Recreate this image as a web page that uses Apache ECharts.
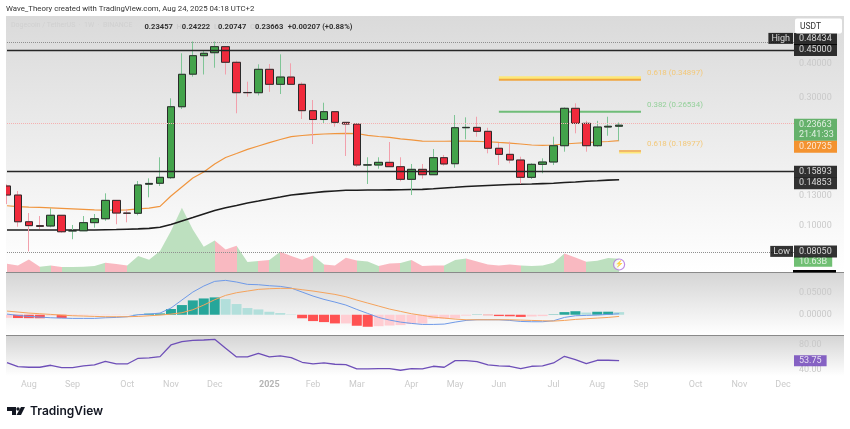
<!DOCTYPE html>
<html>
<head>
<meta charset="utf-8">
<title>DOGE/USDT 1W</title>
<script src="https://cdn.jsdelivr.net/npm/echarts@6/dist/echarts.min.js"></script>
<style>
  html, body { margin: 0; padding: 0; background: #fff; }
  #main { width: 850px; height: 429px; }
</style>
</head>
<body>
<div id="main"></div>
<script>
// weekly slots, the chart keeps empty weeks on the right side
const weeks = [
  "2024-07-22","2024-07-29","2024-08-05","2024-08-12","2024-08-19","2024-08-26","2024-09-02","2024-09-09","2024-09-16","2024-09-23",
  "2024-09-30","2024-10-07","2024-10-14","2024-10-21","2024-10-28","2024-11-04","2024-11-11","2024-11-18","2024-11-25","2024-12-02",
  "2024-12-09","2024-12-16","2024-12-23","2024-12-30","2025-01-06","2025-01-13","2025-01-20","2025-01-27","2025-02-03","2025-02-10",
  "2025-02-17","2025-02-24","2025-03-03","2025-03-10","2025-03-17","2025-03-24","2025-03-31","2025-04-07","2025-04-14","2025-04-21",
  "2025-04-28","2025-05-05","2025-05-12","2025-05-19","2025-05-26","2025-06-02","2025-06-09","2025-06-16","2025-06-23","2025-06-30",
  "2025-07-07","2025-07-14","2025-07-21","2025-07-28","2025-08-04","2025-08-11","2025-08-18","2025-08-25","2025-09-01","2025-09-08",
  "2025-09-15","2025-09-22","2025-09-29","2025-10-06","2025-10-13","2025-10-20","2025-10-27","2025-11-03","2025-11-10","2025-11-17",
  "2025-11-24","2025-12-01","2025-12-08"
];
const monthWeeks = {
  "2024-08-05": "Aug", "2024-09-02": "Sep", "2024-10-07": "Oct", "2024-11-04": "Nov", "2024-12-02": "Dec",
  "2025-01-06": "2025", "2025-02-03": "Feb", "2025-03-03": "Mar", "2025-04-07": "Apr", "2025-05-05": "May",
  "2025-06-02": "Jun", "2025-07-07": "Jul", "2025-08-04": "Aug", "2025-09-01": "Sep", "2025-10-06": "Oct",
  "2025-11-03": "Nov", "2025-12-01": "Dec"
};

const opens = [
  .1408,.1303,.1037,.1003,.1000,.1096,.0958,.0960,.1029,.1064,
  .1245,.1117,.1115,.1429,.1441,.1511,.2771,.3660,.4286,.4397,
  .4630,.4051,.3130,.3124,.3815,.3356,.3572,.3356,.2679,.2484,
  .2656,.2425,.2390,.1684,.1684,.1723,.1660,.1490,.1623,.1550,
  .1793,.1703,.2316,.2323,.2246,.1943,.1845,.1758,.1516,.1694,
  .1728,.1986,.2734,.2405,.1986,.2330,.23457
];
const closes = [
  .1303,.1037,.1003,.0997,.1096,.0952,.0962,.1029,.1064,.1245,
  .1117,.1115,.1420,.1439,.1516,.2771,.3656,.4286,.4375,.4630,
  .4051,.3124,.3124,.3815,.3356,.3572,.3356,.2679,.2484,.2656,
  .2425,.2390,.1684,.1686,.1723,.1660,.1490,.1623,.1550,.1793,
  .1699,.2316,.2323,.2246,.1943,.1845,.1758,.1516,.1694,.1728,
  .1986,.2734,.2405,.1986,.2330,.2345,.23663
];
const lows = [
  .1206,.0994,.0805,.0975,.0989,.0944,.0893,.0958,.0986,.1046,
  .1015,.1032,.1096,.1278,.1408,.1494,.2718,.3582,.3650,.3868,
  .3650,.2620,.3020,.3052,.3146,.3089,.3345,.2495,.2015,.2405,
  .2336,.1819,.1656,.1432,.1632,.1656,.1466,.1303,.1498,.1546,
  .1674,.1646,.2098,.2145,.1861,.1684,.1709,.1432,.1494,.1569,
  .1684,.1887,.2208,.1887,.1969,.2163,.20747
];
const highs = [
  .1429,.1349,.1117,.1089,.1163,.1098,.1009,.1089,.1108,.1322,
  .1249,.1157,.1469,.1503,.1799,.2978,.4375,.4843,.4474,.4843,
  .4656,.4107,.3432,.3982,.3992,.4337,.4016,.3414,.2935,.2868,
  .2660,.2431,.2400,.1799,.1799,.2050,.1799,.1699,.1699,.1931,
  .1835,.2582,.2531,.2544,.2316,.2033,.2055,.1808,.1709,.1783,
  .2145,.2757,.2853,.2456,.2456,.2544,.24222
];
const ema50 = [
  .1189,.1181,.1176,.1173,.1168,.1163,.1158,.1153,.1148,.1146,
  .1146,.1148,.1157,.1166,.1183,.1292,.1396,.1507,.1586,.1699,
  .1796,.1858,.1924,.1981,.2038,.2095,.2145,.2167,.2182,.2195,
  .2204,.2208,.2204,.2169,.2149,.2131,.2107,.2089,.2067,.2063,
  .2063,.2067,.2067,.2061,.2054,.2042,.2031,.2015,.1998,.1993,
  .1998,.2015,.2028,.2038,.2050,.2059,.20735
];
const sma200 = [
  .0966,.0966,.0966,.0966,.0966,.0966,.0966,.0966,.0966,.0968,
  .0970,.0973,.0976,.0980,.0989,.1013,.1044,.1075,.1108,.1142,
  .1168,.1191,.1217,.1238,.1260,.1281,.1303,.1316,.1329,.1341,
  .1349,.1357,.1358,.1360,.1360,.1362,.1364,.1366,.1368,.1374,
  .1384,.1392,.1401,.1408,.1414,.1420,.1425,.1429,.1432,.1437,
  .1441,.1450,.1457,.1465,.1472,.1480,.14853
];
// volume in billions
const volume = [
  6.7,5.3,10.1,4.3,5.3,4.0,4.0,4.3,4.8,7.5,
  6.4,5.3,12.8,9.9,16.8,32.8,51.5,34.1,20.3,25.3,
  18.1,21.1,8.0,8.8,9.6,16.3,12.8,9.9,13.3,6.1,
  5.3,11.5,9.3,8.5,4.8,6.9,7.2,9.6,4.8,5.3,
  5.3,9.6,10.9,8.5,6.1,5.3,6.1,5.3,4.8,5.3,
  7.5,14.9,11.7,8.3,9.1,11.2,10.63
];
const macdHist = [
  -.0070,-.0075,-.0078,-.0080,-.0020,-.0075,-.0020,-.0015,-.0010,-.0010,
  -.0008,-.0005,.0005,.0025,.0030,.0130,.0220,.0326,.0370,.0394,
  .0356,.0243,.0152,.0121,.0068,.0038,.0008,-.0080,-.0144,-.0167,
  -.0197,-.0197,-.0250,-.0273,-.0260,-.0245,-.0235,-.0210,-.0200,-.0090,
  -.0090,-.0080,-.0020,.0005,-.0010,-.0030,-.0035,-.0050,-.0040,-.0030,
  .0008,.0060,.0080,.0050,.0068,.0069,.0060
];
const macdLine = [
  .0015,-.0015,-.0038,-.0053,-.0068,-.0076,-.0083,-.0083,-.0083,-.0068,
  -.0061,-.0045,0,.0015,.0038,.0152,.0334,.0515,.0652,.0758,
  .0781,.0743,.0690,.0682,.0659,.0644,.0606,.0515,.0424,.0349,
  .0288,.0220,.0121,.0030,-.0061,-.0121,-.0167,-.0197,-.0220,-.0220,
  -.0212,-.0167,-.0129,-.0114,-.0114,-.0114,-.0129,-.0152,-.0159,-.0159,
  -.0136,-.0061,-.0023,-.0015,-.0008,.0008,.0023
];
const macdSignal = [
  .0083,.0061,.0038,.0023,.0008,-.0008,-.0023,-.0030,-.0038,-.0045,
  -.0045,-.0045,-.0038,-.0023,-.0008,.0015,.0045,.0114,.0220,.0341,
  .0440,.0500,.0538,.0576,.0591,.0599,.0599,.0569,.0538,.0500,
  .0462,.0409,.0334,.0265,.0197,.0129,.0076,.0023,-.0015,-.0053,
  -.0076,-.0099,-.0114,-.0114,-.0114,-.0114,-.0114,-.0121,-.0129,-.0136,
  -.0144,-.0129,-.0106,-.0091,-.0076,-.0061,-.0038
];
const rsi = [
  50.7,44.3,43.2,43.2,46.4,42.7,42.7,45.3,46.9,52.8,
  48.5,48.5,57.6,58.1,60.3,78.9,84.3,86.4,86.9,88.0,
  73.6,59.7,59.7,65.6,59.7,61.3,58.7,51.2,48.5,50.1,
  48.0,47.5,40.5,40.5,41.1,41.1,38.4,41.1,40.5,44.8,
  43.2,53.9,53.9,52.3,46.9,45.3,44.8,41.1,44.8,45.3,
  50.1,60.8,55.5,49.1,54.4,54.4,53.75
];

const priceTicks = [0.4, 0.3, 0.13, 0.1];
const macdTicks = [0.05, 0];
const rsiTicks = [80, 40];
const highPrice = 0.48434;
const lowPrice = 0.0805;
const lastPrice = 0.23663;
const levels = [0.45, 0.15893];
const lastVolume = 10.63;
const lastRsi = 53.75;
const fibUpper = 0.34897;
const fibMid = 0.26534;
const fibLower = 0.18977;

var GREEN = "#43a34b", RED = "#f02a3c";
var lastSlot = weeks.length - 1;
var lastBar = opens.length - 1;

var candles = opens.map((o, i) => [o, closes[i], lows[i], highs[i]]);
var bodies = opens.map((o, i) => [o, closes[i], Math.min(o, closes[i]), Math.max(o, closes[i])]);

function vGrad(stops) {
  return new echarts.graphic.LinearGradient(0, 0, 0, 1, stops);
}

function tag(value, text, color, dy) {
  return {
    value: [lastSlot, value],
    label: { formatter: text, backgroundColor: color, offset: [0, dy], width: 33, lineHeight: 10 }
  };
}

function fibLine(name, from, to, price, color, width, text, textColor) {
  var s = {
    name: name, type: "line", z: 3, silent: true, symbol: "none",
    data: [[from, price], [to, price]],
    lineStyle: { color: color, width: width }
  };
  if (text) {
    s.endLabel = {
      show: true, formatter: text, color: textColor, fontSize: 7.9,
      fontFamily: "Roboto", offset: [-2, -7]
    };
  }
  return s;
}

// area colour follows the candle direction, split by slot
var volPieces = [
  [0,3,"p"],[3,4,"g"],[4,5,"p"],[5,9,"g"],[9,11,"p"],[11,19,"g"],[19,21,"p"],[21,23,"g"],
  [23,24,"p"],[24,25,"g"],[25,28,"p"],[28,29,"g"],[29,32,"p"],[32,34,"g"],[34,36,"p"],
  [36,37,"g"],[37,40,"p"],[40,42,"g"],[42,47,"p"],[47,51,"g"],[51,53,"p"],[53,57,"g"]
].map(function (p) {
  return { gte: p[0], lt: p[1], color: p[2] == "g" ? "#bde0bf" : "#f9b9c1" };
});

var axisText = { color: "#c9c9c9", fontSize: 9, fontFamily: "Roboto" };

var option = {
  animation: false,
  textStyle: { fontFamily: "Roboto" },
  title: [
    {
      text: "Wave_Theory created with TradingView.com, Aug 24, 2025 04:18 UTC+2",
      left: 6, top: 5, padding: 0,
      textStyle: { fontSize: 7.8, fontWeight: "normal", color: "#333", fontFamily: "Roboto" }
    },
    {
      text: "Dogecoin / TetherUS  ·  1W  ·  BINANCE",
      left: 11, top: 22, padding: 0,
      textStyle: { fontSize: 7, fontWeight: "normal", color: "#d0d0d0", fontFamily: "Roboto" }
    },
    {
      text: "{v|0.23457}{p|  H}{v|0.24222}{p|  L}{v|0.20747}{p|  C}{v|0.23663} {v|+0.00207 (+0.88%)}",
      left: 144.5, top: 18, padding: 0,
      textStyle: {
        rich: {
          p: { color: "#cfcfcf", fontSize: 7.5, fontFamily: "Roboto" },
          v: { color: "#333", fontSize: 7.6, fontFamily: "Roboto" }
        }
      }
    }
  ],
  grid: [
    { left: 7, width: 787, top: 16, height: 256 },
    { left: 7, width: 787, top: 273, height: 62 },
    { left: 7, width: 787, top: 336, height: 37 }
  ],
  xAxis: [
    { type: "category", data: weeks, boundaryGap: false, gridIndex: 0, show: false },
    { type: "category", data: weeks, boundaryGap: false, gridIndex: 1, show: false },
    {
      type: "category", data: weeks, boundaryGap: false, gridIndex: 2,
      axisLine: { show: false }, axisTick: { show: false },
      axisLabel: {
        color: "#cbcbcb", fontSize: 9, fontFamily: "Roboto", margin: 7, hideOverlap: false,
        interval: function (i, value) { return !!monthWeeks[value]; },
        formatter: function (value) {
          var m = monthWeeks[value];
          return m == "2025" ? "{b|2025}" : m;
        },
        rich: { b: { color: "#b5b5b5", fontSize: 9, fontWeight: "bold", fontFamily: "Roboto" } }
      }
    }
  ],
  yAxis: [
    {
      type: "log", logBase: 10, gridIndex: 0, position: "right", min: 0.0675, max: 0.6017,
      axisLine: { show: false }, axisTick: { show: false }, splitLine: { show: false },
      axisLabel: Object.assign({ customValues: priceTicks, margin: 5, formatter: (v) => Number(v).toFixed(5) }, axisText)
    },
    { type: "value", gridIndex: 0, min: 0, max: 205, show: false },
    {
      type: "value", gridIndex: 1, position: "right", min: -0.046, max: 0.0948,
      axisLine: { show: false }, axisTick: { show: false }, splitLine: { show: false },
      axisLabel: Object.assign({ customValues: macdTicks, margin: 5, formatter: (v) => Number(v).toFixed(5) }, axisText)
    },
    {
      type: "value", gridIndex: 2, position: "right", min: 34, max: 93.3,
      axisLine: { show: false }, axisTick: { show: false }, splitLine: { show: false },
      axisLabel: Object.assign({ customValues: rsiTicks, margin: 5, formatter: (v) => Number(v).toFixed(2) }, axisText)
    }
  ],
  visualMap: {
    show: false, type: "piecewise", seriesIndex: 0, dimension: 0,
    pieces: volPieces, outOfRange: { color: "#bde0bf" }
  },
  series: [
    {
      name: "Volume", type: "line", xAxisIndex: 0, yAxisIndex: 1, z: 1, silent: true,
      symbol: "none", lineStyle: { width: 0 }, areaStyle: { opacity: 1 },
      data: volume.map((v, i) => [i, v])
    },
    {
      name: "Dotted", type: "line", z: 2, silent: true, symbol: "none", data: [],
      markLine: {
        silent: true, symbol: "none", label: { show: false },
        lineStyle: { type: "dotted", width: 1, color: "#8f8f8f" },
        data: [{ yAxis: highPrice }, { yAxis: lowPrice }]
      }
    },
    {
      name: "Last price", type: "line", z: 2, silent: true, symbol: "none", data: [],
      markLine: {
        silent: true, symbol: "none", label: { show: false },
        lineStyle: { type: "dotted", width: 1, color: "#f5b0b0" },
        data: [{ yAxis: lastPrice }]
      }
    },
    {
      name: "Levels", type: "line", z: 2, silent: true, symbol: "none", data: [],
      markLine: {
        silent: true, symbol: "none", label: { show: false },
        lineStyle: { type: "solid", width: 1.3, color: "#262626" },
        data: levels.map((v) => ({ yAxis: v }))
      }
    },
    {
      name: "SMA200", type: "line", z: 2, silent: true, symbol: "none", data: sma200,
      lineStyle: { color: "#1d1d1d", width: 1.6 }
    },
    {
      name: "EMA50", type: "line", z: 2, silent: true, symbol: "none", data: ema50,
      lineStyle: { color: "#f0953e", width: 1.2 }
    },
    {
      name: "Wicks", type: "candlestick", z: 3, silent: true, barWidth: 8, data: candles,
      itemStyle: { color: "transparent", color0: "transparent", borderColor: "#7fc596", borderColor0: "#f2a0ac", borderWidth: 1 }
    },
    {
      name: "Bodies", type: "candlestick", z: 4, silent: true, barWidth: 8, data: bodies,
      itemStyle: { color: GREEN, color0: RED, borderColor: "#2b2b2b", borderColor0: "#2b2b2b", borderWidth: 1 }
    },
    fibLine("Fib band upper", 45, 58, 0.3545, "#fde778", 3.5),
    fibLine("Fib 0.618 upper", 45, 58, fibUpper, "#f0a63f", 2, "0.618 (0.34897)", "#f3c878"),
    fibLine("Fib 0.382", 45, 58, fibMid, "#6fbd78", 2, "0.382 (0.26534)", "#94d09a"),
    fibLine("Fib band lower", 56, 58, 0.1869, "#fde778", 1.5),
    fibLine("Fib 0.618 lower", 56, 58, fibLower, "#f0a63f", 1.5, "0.618 (0.18977)", "#f3c878"),
    {
      name: "Price tags", type: "scatter", z: 6, silent: true, symbolSize: 0, clip: false,
      label: {
        show: true, position: "right", distance: 0, color: "#fff", fontSize: 9,
        fontFamily: "Roboto", align: "left", padding: [1, 5, 1, 5]
      },
      data: [
        tag(highPrice, "0.48434", "#000", -2.5),
        tag(levels[0], "0.45000", "#000", 0),
        tag(lastPrice, "0.23663\n21:41:33", "#43a34b", 4.5),
        tag(ema50[lastBar], "0.20735", "#f57c00", 6),
        tag(levels[1], "0.15893", "#000", 0),
        tag(sma200[lastBar], "0.14853", "#000", 3.5),
        tag(lowPrice, "0.08050", "#000", 0)
      ]
    },
    {
      name: "High Low", type: "scatter", z: 6, silent: true, symbolSize: 0, clip: false,
      label: {
        show: true, position: "left", distance: 1, color: "#fff", fontSize: 9,
        fontFamily: "Roboto", backgroundColor: "#000", padding: [1, 3, 1, 3]
      },
      data: [
        { value: [lastSlot, highPrice], label: { formatter: "High", offset: [0, -3] } },
        { value: [lastSlot, lowPrice], label: { formatter: "Low" } }
      ]
    },
    {
      name: "Volume tag", type: "scatter", xAxisIndex: 0, yAxisIndex: 1, z: 5, silent: true,
      symbolSize: 0, clip: false,
      label: {
        show: true, position: "right", distance: 0, color: "#fff", fontSize: 9,
        fontFamily: "Roboto", backgroundColor: "#4caf50", padding: [0.5, 5, 0.5, 5],
        offset: [0, 3], formatter: "10.63B"
      },
      data: [[lastSlot, lastVolume]]
    },
    {
      name: "Alert", type: "scatter", xAxisIndex: 0, yAxisIndex: 1, z: 6, silent: true,
      symbol: "circle", symbolSize: 11,
      itemStyle: { color: "#fff", borderColor: "#b06fdc", borderWidth: 1.2 },
      label: { show: true, position: "inside", formatter: "⚡", color: "#a050d0", fontSize: 7 },
      data: [[lastBar, 6]]
    },
    {
      name: "MACD hist", type: "bar", xAxisIndex: 1, yAxisIndex: 2, z: 2, silent: true, barWidth: 10,
      data: macdHist.map(function (v, i) {
        var prev = i > 0 ? macdHist[i - 1] : v;
        var c = v >= 0 ? (v >= prev ? "#26a69a" : "#b2dfdb") : (v < prev ? "#ff5252" : "#ffcdd2");
        return { value: v, itemStyle: { color: c } };
      })
    },
    {
      name: "MACD", type: "line", xAxisIndex: 1, yAxisIndex: 2, z: 3, silent: true, symbol: "none",
      data: macdLine, lineStyle: { color: "#6f9ae8", width: 1 }
    },
    {
      name: "Signal", type: "line", xAxisIndex: 1, yAxisIndex: 2, z: 3, silent: true, symbol: "none",
      data: macdSignal, lineStyle: { color: "#f5a35c", width: 1 }
    },
    {
      name: "RSI", type: "line", xAxisIndex: 2, yAxisIndex: 3, z: 3, silent: true, symbol: "none",
      data: rsi, lineStyle: { color: "#6e4fb8", width: 1.3 }
    },
    {
      name: "RSI tag", type: "scatter", xAxisIndex: 2, yAxisIndex: 3, z: 5, silent: true,
      symbolSize: 0, clip: false,
      label: {
        show: true, position: "right", distance: 0, color: "#fff", fontSize: 9,
        fontFamily: "Roboto", backgroundColor: "#6a3db8", padding: [1, 5, 1, 5], formatter: "53.75"
      },
      data: [[lastSlot, lastRsi]]
    }
  ],
  graphic: [
    { type: "rect", z: -10, shape: { x: 6, y: 16, width: 838, height: 256 }, style: { fill: vGrad([{ offset: 0, color: "#dadada" }, { offset: 1, color: "#ffffff" }]) } },
    { type: "rect", z: -10, shape: { x: 6, y: 273, width: 838, height: 62 }, style: { fill: vGrad([{ offset: 0, color: "#d5d5d5" }, { offset: 1, color: "#ffffff" }]) } },
    { type: "rect", z: -10, shape: { x: 6, y: 336, width: 838, height: 40 }, style: { fill: vGrad([{ offset: 0, color: "#d5d5d5" }, { offset: 1, color: "#ffffff" }]) } },
    { type: "line", z: -9, shape: { x1: 6, y1: 272.5, x2: 844, y2: 272.5 }, style: { stroke: "#8a8a8a", lineWidth: 1 } },
    { type: "line", z: -9, shape: { x1: 6, y1: 335.5, x2: 844, y2: 335.5 }, style: { stroke: "#8a8a8a", lineWidth: 1 } },
    // the picture cuts the first candle at its left edge
    { type: "rect", z: 20, shape: { x: 0, y: 16, width: 6, height: 360 }, style: { fill: "#fff" } },
    { type: "rect", z: 5, shape: { x: 793, y: 270, width: 43, height: 2.5 }, style: { fill: "#000" } },
    { type: "rect", z: 8, shape: { x: 795, y: 18.5, width: 47, height: 15, r: 2 }, style: { fill: "#fff" } },
    { type: "text", z: 9, style: { x: 800, y: 22, text: "USDT", fill: "#333", fontSize: 8.5, fontFamily: "Roboto" } },
    // logo
    { type: "polygon", shape: { points: [[7, 407], [16, 407], [16, 415], [12, 415], [12, 411], [7, 411]] }, style: { fill: "#131722" } },
    { type: "circle", shape: { cx: 18, cy: 409, r: 1.7 }, style: { fill: "#131722" } },
    { type: "polygon", shape: { points: [[21, 407], [25, 407], [21, 415], [16.5, 415]] }, style: { fill: "#131722" } },
    { type: "text", style: { x: 30, y: 405, text: "TradingView", fill: "#131722", fontSize: 12, fontWeight: 600, fontFamily: "Inter" } }
  ]
};

var myChart = echarts.init(document.getElementById("main"), null, { renderer: "canvas" });
myChart.setOption(option);
window.addEventListener("resize", myChart.resize);
</script>
</body>
</html>
